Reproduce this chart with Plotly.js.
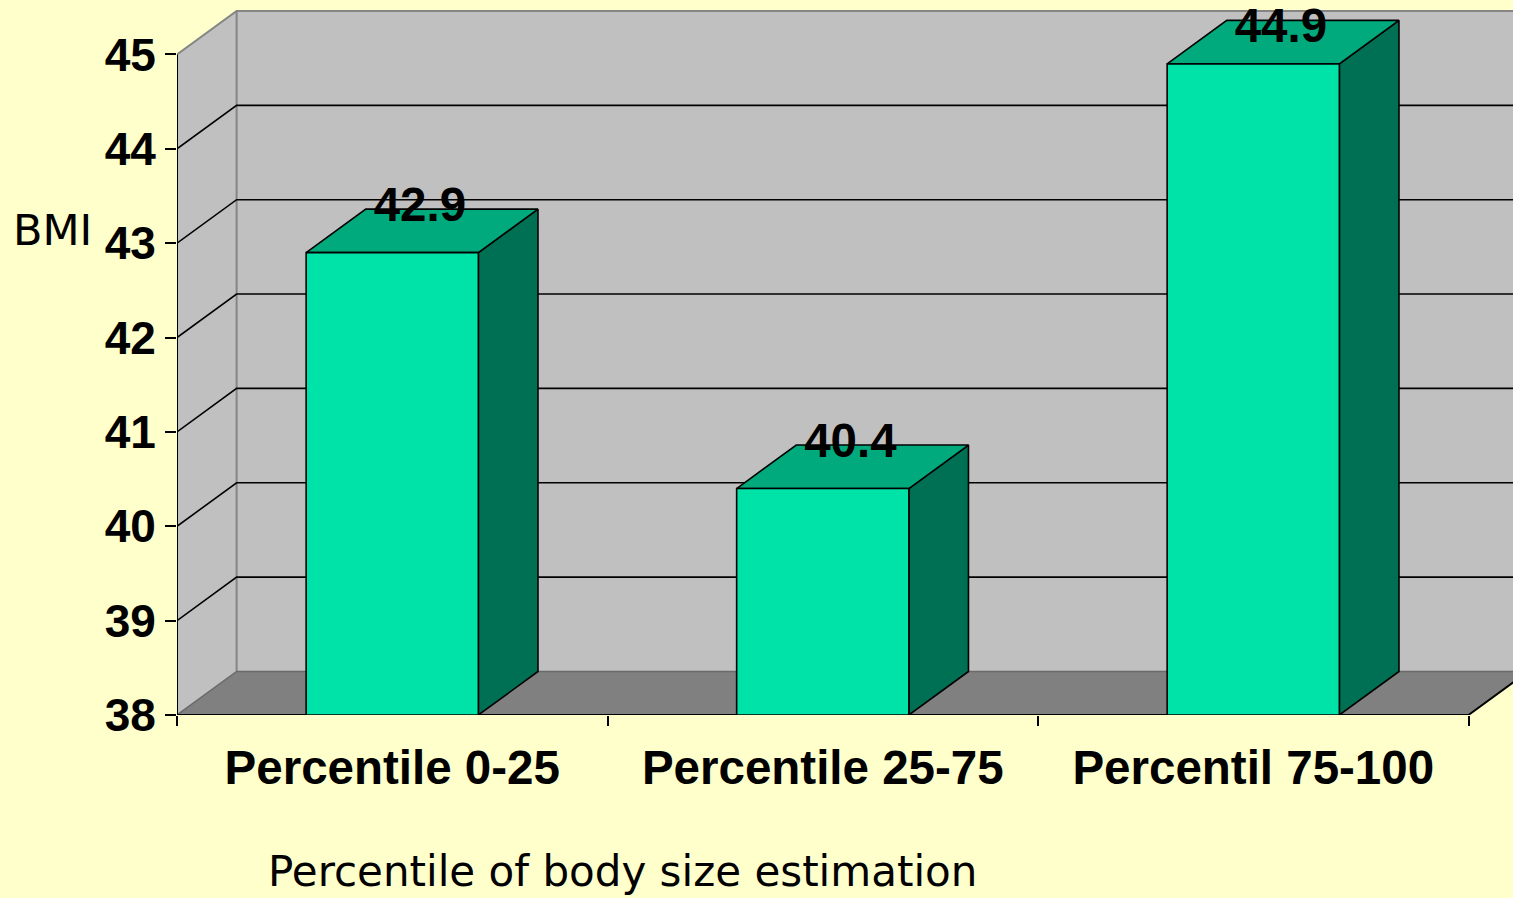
<!DOCTYPE html>
<html>
<head>
<meta charset="utf-8">
<script src="https://cdn.plot.ly/plotly-3.0.1.min.js"></script>
<style>
  html, body { margin: 0; padding: 0; background: #FFFFCC; }
  #chart { width: 1513px; height: 898px; }
</style>
</head>
<body>
<div id="chart"></div>
<script>
// ---- data ----
const categories = ['Percentile 0-25', 'Percentile 25-75', 'Percentil 75-100'];
const bmiValues = [42.9, 40.4, 44.9];
const yTickValues = [38, 39, 40, 41, 42, 43, 44, 45];
const yAxisLabel = 'BMI';
const xAxisLabel = 'Percentile of body size estimation';

// ---- geometry (in axis units) ----
const Y0 = yTickValues[0];
const Y1 = yTickValues[yTickValues.length - 1];
const X0 = -0.5;
const X1 = categories.length - 0.5;
const DX = 0.1385;   // depth offset along x (category units)
const DY = 0.461;    // depth offset along y (value units)
const HW = 0.2;      // half bar width

const PX_PER_CAT = 430.5;
const PX_PER_UNIT = 94.36;
const L = 177, B = 183, W = 1513, H = 898;
const plotW = W - L;
const plotH = H - B;
const yTop = Y0 + plotH / PX_PER_UNIT;

const traces = [];

// back wall
traces.push({
  x: [X0 + DX, X1 + DX, X1 + DX, X0 + DX],
  y: [Y0 + DY, Y0 + DY, Y1 + DY, Y1 + DY],
  fill: 'toself', fillcolor: '#C0C0C0', mode: 'lines', line: {width: 0},
  hoverinfo: 'skip', showlegend: false
});
// left wall
traces.push({
  x: [X0, X0, X0 + DX, X0 + DX],
  y: [Y0, Y1, Y1 + DY, Y0 + DY],
  fill: 'toself', fillcolor: '#C0C0C0', mode: 'lines', line: {width: 0},
  hoverinfo: 'skip', showlegend: false
});
// floor
traces.push({
  x: [X0, X1, X1 + DX, X0 + DX],
  y: [Y0, Y0, Y0 + DY, Y0 + DY],
  fill: 'toself', fillcolor: '#808080', mode: 'lines', line: {width: 0},
  hoverinfo: 'skip', showlegend: false
});
// gray wall edges
traces.push({
  x: [X0, X0 + DX, X1 + DX, null, X0 + DX, X0 + DX],
  y: [Y1, Y1 + DY, Y1 + DY, null, Y0 + DY, Y1 + DY],
  mode: 'lines', line: {color: '#858585', width: 2},
  hoverinfo: 'skip', showlegend: false
});
traces.push({
  x: [X0, X0 + DX, X1 + DX],
  y: [Y0, Y0 + DY, Y0 + DY],
  mode: 'lines', line: {color: '#6a6a6a', width: 1.5},
  hoverinfo: 'skip', showlegend: false
});
// gridlines (left wall diagonals + back wall horizontals)
const gx = [], gy = [];
yTickValues.slice(1, -1).forEach(v => {
  gx.push(X0, X0 + DX, X1 + DX + 1, null);
  gy.push(v, v + DY, v + DY, null);
});
traces.push({
  x: gx, y: gy, mode: 'lines', line: {color: '#000000', width: 1.6},
  hoverinfo: 'skip', showlegend: false
});
// front axis lines
traces.push({
  x: [X0, X0, X1, X1 + DX],
  y: [Y1, Y0, Y0, Y0 + DY],
  mode: 'lines', line: {color: '#000000', width: 2},
  hoverinfo: 'skip', showlegend: false
});

// bars
const sx = [], sy = [], tx = [], ty = [], fx = [], fy = [];
bmiValues.forEach((v, i) => {
  const a = i - HW, b = i + HW;
  sx.push(b, b + DX, b + DX, b, b, null);
  sy.push(Y0, Y0 + DY, v + DY, v, Y0, null);
  tx.push(a, b, b + DX, a + DX, a, null);
  ty.push(v, v, v + DY, v + DY, v, null);
  fx.push(a, b, b, a, a, null);
  fy.push(Y0, Y0, v, v, Y0, null);
});
const edge = {color: '#000000', width: 1.6};
traces.push({x: sx, y: sy, fill: 'toself', fillcolor: '#007055', mode: 'lines', line: edge, hoverinfo: 'skip', showlegend: false});
traces.push({x: tx, y: ty, fill: 'toself', fillcolor: '#00AA7D', mode: 'lines', line: edge, hoverinfo: 'skip', showlegend: false});
traces.push({x: fx, y: fy, fill: 'toself', fillcolor: '#00E3A8', mode: 'lines', line: edge, hoverinfo: 'skip', showlegend: false});

// value labels (kept inside the chart area near the top)
const labelMaxY = yTop - 30 / PX_PER_UNIT;
traces.push({
  x: bmiValues.map((v, i) => i + DX / 2 - 0.005),
  y: bmiValues.map(v => Math.min(v + DY, labelMaxY)),
  text: bmiValues.map(v => v.toFixed(1)),
  mode: 'text', textposition: 'middle center',
  textfont: {family: 'Liberation Sans, Arial, sans-serif', size: 47.5, color: '#000000', weight: 'bold'},
  cliponaxis: false, hoverinfo: 'skip', showlegend: false
});

const layout = {
  width: W, height: H,
  margin: {l: L, r: 0, t: 0, b: B, pad: 0},
  paper_bgcolor: '#FFFFCC',
  plot_bgcolor: 'rgba(0,0,0,0)',
  showlegend: false,
  xaxis: {
    range: [X0, X0 + plotW / PX_PER_CAT],
    tickmode: 'array', tickvals: categories.map((c, i) => i), ticktext: categories,
    ticks: '', showgrid: false, zeroline: false, showline: false,
    ticklabelstandoff: 20,
    tickfont: {family: 'Liberation Sans, Arial, sans-serif', size: 47.5, color: '#000000', weight: 'bold'},
    minor: {tickmode: 'array', tickvals: categories.map((c, i) => i - 0.5).concat([X1]),
            ticks: 'outside', ticklen: 10, tickwidth: 2, tickcolor: '#000000', showgrid: false},
    fixedrange: true
  },
  yaxis: {
    range: [Y0, yTop],
    tickmode: 'array', tickvals: yTickValues,
    ticks: 'outside', ticklen: 11, tickwidth: 2, tickcolor: '#000000',
    showgrid: false, zeroline: false, showline: false,
    tickfont: {family: 'Liberation Sans, Arial, sans-serif', size: 46, color: '#000000', weight: 'bold'},
    fixedrange: true
  },
  annotations: [
    {
      text: yAxisLabel, xref: 'paper', yref: 'paper',
      x: (94 - L) / plotW, xanchor: 'right',
      y: (plotH - 230) / plotH, yanchor: 'middle',
      showarrow: false,
      font: {family: 'DejaVu Sans, sans-serif', size: 43, color: '#000000'}
    },
    {
      text: xAxisLabel, xref: 'paper', yref: 'paper',
      x: (622 - L) / plotW, xanchor: 'center',
      y: (plotH - 871) / plotH, yanchor: 'middle',
      showarrow: false,
      font: {family: 'DejaVu Sans, sans-serif', size: 42, color: '#000000'}
    }
  ]
};

Plotly.newPlot('chart', traces, layout, {displayModeBar: false, staticPlot: true});
</script>
</body>
</html>
